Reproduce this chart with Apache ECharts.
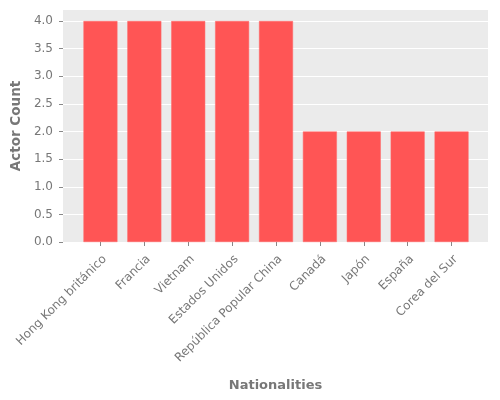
<!DOCTYPE html>
<html><head><meta charset="utf-8">
<script src="https://cdn.jsdelivr.net/npm/echarts@6/dist/echarts.min.js"></script>
<style>html,body{margin:0;padding:0;background:#fff}#c{width:500px;height:400px}</style>
</head><body><div id="c"></div>
<script>
const categories = ["Hong Kong británico","Francia","Vietnam","Estados Unidos","República Popular China","Canadá","Japón","España","Corea del Sur"];
const actorCounts = [4,4,4,4,4,2,2,2,2];
const yTicks = [0,0.5,1,1.5,2,2.5,3,3.5,4];

const chart = echarts.init(document.getElementById('c'));
const font = 'DejaVu Sans';
chart.setOption({
  animation: false,
  grid: [
    {left: 63, right: 12, top: 10, bottom: 158, show: true, backgroundColor: '#EBEBEB', borderWidth: 0, outerBoundsMode: 'none', containLabel: false},
    {left: 78.5, width: 395, top: 10, bottom: 158, outerBoundsMode: 'none', containLabel: false}
  ],
  xAxis: [
    {gridIndex: 0, type: 'value', min: 0, max: 1, axisLine:{show:false}, axisTick:{show:false}, axisLabel:{show:false}, splitLine:{show:false},
     name: 'Nationalities', nameLocation: 'middle', nameGap: 137,
     nameTextStyle: {fontFamily: font, fontSize: 13, fontWeight: 'bold', color: '#777777'}},
    {gridIndex: 1, type: 'category', data: categories, axisLine:{show:false},
     axisTick:{show:true, alignWithLabel:true, length:4, lineStyle:{color:'#888888'}},
     axisLabel:{rotate:45, interval:0, margin:11, verticalAlign:'top', fontFamily: font, fontSize: 12, color:'#777777'},
     splitLine:{show:false}}
  ],
  yAxis: [
    {gridIndex: 0, type: 'value', min: 0, max: 4.2,
     axisLine:{show:false},
     axisTick:{show:true, length:4, lineStyle:{color:'#888888'}, customValues: yTicks},
     axisLabel:{fontFamily: font, fontSize: 12, color:'#777777', margin:10, customValues: yTicks,
       formatter: v => v.toFixed(1)},
     splitLine:{show:true, lineStyle:{color:'#ffffff', width:1}},
     name: 'Actor Count', nameLocation: 'middle', nameGap: 35, nameRotate: 90,
     nameTextStyle: {fontFamily: font, fontSize: 13.5, fontWeight: 'bold', color: '#777777'}},
    {gridIndex: 1, type: 'value', min: 0, max: 4.2, show: false}
  ],
  series: [{
    type: 'bar', xAxisIndex: 1, yAxisIndex: 1, data: actorCounts, barWidth: 34,
    itemStyle: {color: '#FF5555', borderColor: '#FF6A6A', borderWidth: 0.5}
  }]
});
</script></body></html>
